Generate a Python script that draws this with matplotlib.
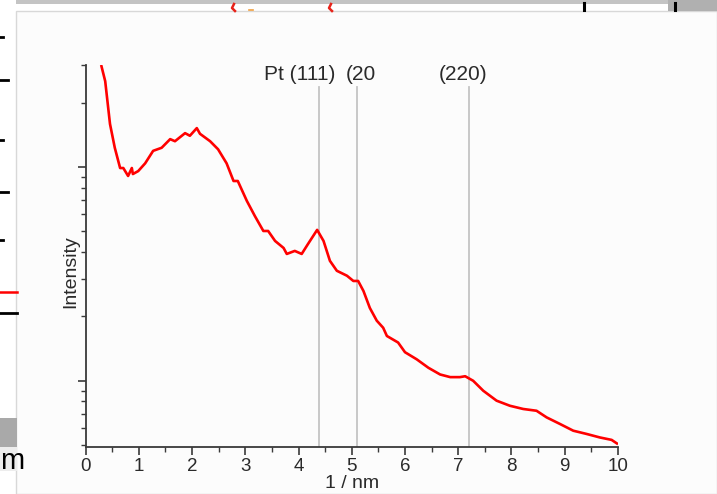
import matplotlib
matplotlib.use("Agg")
import matplotlib.pyplot as plt
import matplotlib.transforms as mtransforms
from matplotlib.patches import Rectangle
from matplotlib.lines import Line2D
from matplotlib.ticker import LogLocator, MultipleLocator, NullFormatter

plt.rcParams["font.family"] = ["Liberation Sans", "DejaVu Sans"]

W, H = 717, 494

# scattering profile, q in 1/nm and intensity (arb. units, log axis)
q = [0.30, 0.37, 0.46, 0.55, 0.65, 0.71, 0.80, 0.87, 0.89, 0.99,
     1.12, 1.27, 1.43, 1.59, 1.68, 1.87, 1.96, 2.09, 2.15, 2.34,
     2.49, 2.65, 2.78, 2.86, 3.03, 3.18, 3.34, 3.43, 3.56, 3.72,
     3.78, 3.93, 4.06, 4.18, 4.35, 4.47, 4.59, 4.72, 4.91, 5.03,
     5.12, 5.22, 5.34, 5.47, 5.59, 5.66, 5.87, 6.00, 6.22, 6.44,
     6.66, 6.85, 7.03, 7.13, 7.28, 7.47, 7.72, 7.97, 8.22, 8.47,
     8.66, 8.91, 9.16, 9.41, 9.66, 9.88, 9.98]
intensity = [29.6, 25.2, 15.9, 12.3, 9.89, 9.89, 9.08, 9.89, 9.27, 9.57,
             10.4, 11.9, 12.3, 13.5, 13.2, 14.4, 14.0, 15.2, 14.3, 13.2,
             12.1, 10.4, 8.60, 8.60, 6.94, 5.90, 5.02, 5.02, 4.51, 4.18,
             3.92, 4.05, 3.92, 4.37, 5.08, 4.51, 3.64, 3.27, 3.10, 2.93,
             2.93, 2.63, 2.19, 1.91, 1.77, 1.62, 1.51, 1.36, 1.26, 1.15,
             1.07, 1.04, 1.04, 1.05, 1.00, 0.898, 0.807, 0.764, 0.738, 0.724,
             0.674, 0.628, 0.584, 0.564, 0.543, 0.529, 0.509]

# Pt reflections
peak_pos = [4.39, 5.10, 7.20]
peak_labels = ["Pt (111)", "(20", "(220)"]
peak_label_x = [300, 346, 463]   # label anchor, px
peak_label_ha = ["center", "left", "center"]


def fx(px):
    return px / W


def fy(py):
    return 1 - py / H


fig = plt.figure(figsize=(W / 100, H / 100), dpi=100)
fig.patch.set_facecolor("white")

# backdrop panel and surrounding bits of the page
fig.add_artist(Rectangle((fx(16), fy(H)), fx(W - 16), fy(11) - fy(H),
                         transform=fig.transFigure, facecolor="#fcfcfc",
                         edgecolor="#d8d8d8", linewidth=1.0, zorder=0))
fig.add_artist(Rectangle((fx(16), fy(4)), fx(W - 16), fy(0) - fy(4),
                         transform=fig.transFigure, facecolor="#c4c4c4",
                         edgecolor="none", zorder=1))
fig.add_artist(Rectangle((fx(668), fy(11)), fx(W - 668), fy(0) - fy(11),
                         transform=fig.transFigure, facecolor="#b0b0b0",
                         edgecolor="none", zorder=1))
for x0 in (584, 675):
    fig.add_artist(Line2D([fx(x0), fx(x0)], [fy(3), fy(10)],
                          transform=fig.transFigure, color="black", lw=2.2))
for x0 in (233, 330):
    fig.add_artist(Line2D([fx(x0 + 1), fx(x0 - 1), fx(x0 + 2)],
                          [fy(4), fy(8), fy(11)],
                          transform=fig.transFigure, color="#e8231a", lw=1.8))
fig.add_artist(Line2D([fx(249), fx(253)], [fy(10), fy(10)],
                      transform=fig.transFigure, color="#f0a040", lw=1.2))
for yy, ln in [(37, 3), (80, 8), (140, 3), (192, 8), (240, 3)]:
    fig.add_artist(Line2D([0, fx(ln)], [fy(yy), fy(yy)],
                          transform=fig.transFigure, color="black", lw=2))
fig.add_artist(Line2D([0, fx(17)], [fy(292), fy(292)],
                      transform=fig.transFigure, color="#ff0000", lw=1.8))
fig.add_artist(Line2D([0, fx(17)], [fy(313), fy(313)],
                      transform=fig.transFigure, color="black", lw=2))
fig.add_artist(Rectangle((0, fy(447)), fx(17), fy(418) - fy(447),
                         transform=fig.transFigure, facecolor="#a9a9a9",
                         edgecolor="none"))
fig.add_artist(Rectangle((0, fy(471)), fx(17), fy(447) - fy(471),
                         transform=fig.transFigure, facecolor="#ededed",
                         edgecolor="none"))
fig.text(fx(0), fy(469), "m", fontsize=21, color="black",
         ha="left", va="baseline")

# plotting area
ax = fig.add_axes([fx(85.5), fy(447), fx(618 - 85.5), fy(65) - fy(447)])
ax.set_facecolor("none")
ax.plot(q, intensity, color="#ff0000", lw=1.9, zorder=3, clip_on=True)

ax.set_yscale("log")
ax.set_xlim(0, 10)
ax.set_ylim(0.49, 30)

trans = mtransforms.blended_transform_factory(ax.transData, ax.transAxes)
for pos in peak_pos:
    ax.plot([pos, pos], [0, 0.942], transform=trans, color="#c4c4c4",
            lw=1.3, zorder=2)
for lab, px, ha in zip(peak_labels, peak_label_x, peak_label_ha):
    ax.text((px - 85.5) / 53.25, 0.975, lab, transform=trans, ha=ha,
            va="center", fontsize=15, color="#2a2a2a")

for side in ("top", "right"):
    ax.spines[side].set_visible(False)
for side in ("left", "bottom"):
    ax.spines[side].set_color("#3a3a3a")
    ax.spines[side].set_linewidth(1.3)

ax.xaxis.set_major_locator(MultipleLocator(1))
ax.xaxis.set_minor_locator(MultipleLocator(0.5))
ax.yaxis.set_major_locator(LogLocator(base=10))
ax.yaxis.set_minor_locator(LogLocator(base=10, subs=range(2, 10)))
ax.yaxis.set_major_formatter(NullFormatter())
ax.yaxis.set_minor_formatter(NullFormatter())
ax.tick_params(axis="both", which="major", direction="out", length=6,
               width=1.2, color="#3a3a3a", labelsize=13.5, labelcolor="#2a2a2a")
ax.tick_params(axis="both", which="minor", direction="out", length=3.5,
               width=1.0, color="#3a3a3a")
ax.tick_params(axis="x", which="major", pad=2)

ax.set_xlabel("1 / nm", fontsize=14, color="#2a2a2a", labelpad=0)
ax.set_ylabel("Intensity", fontsize=14, color="#2a2a2a")
ax.yaxis.set_label_coords(-0.012, 0.46)

fig.savefig("out.png", dpi=100)
